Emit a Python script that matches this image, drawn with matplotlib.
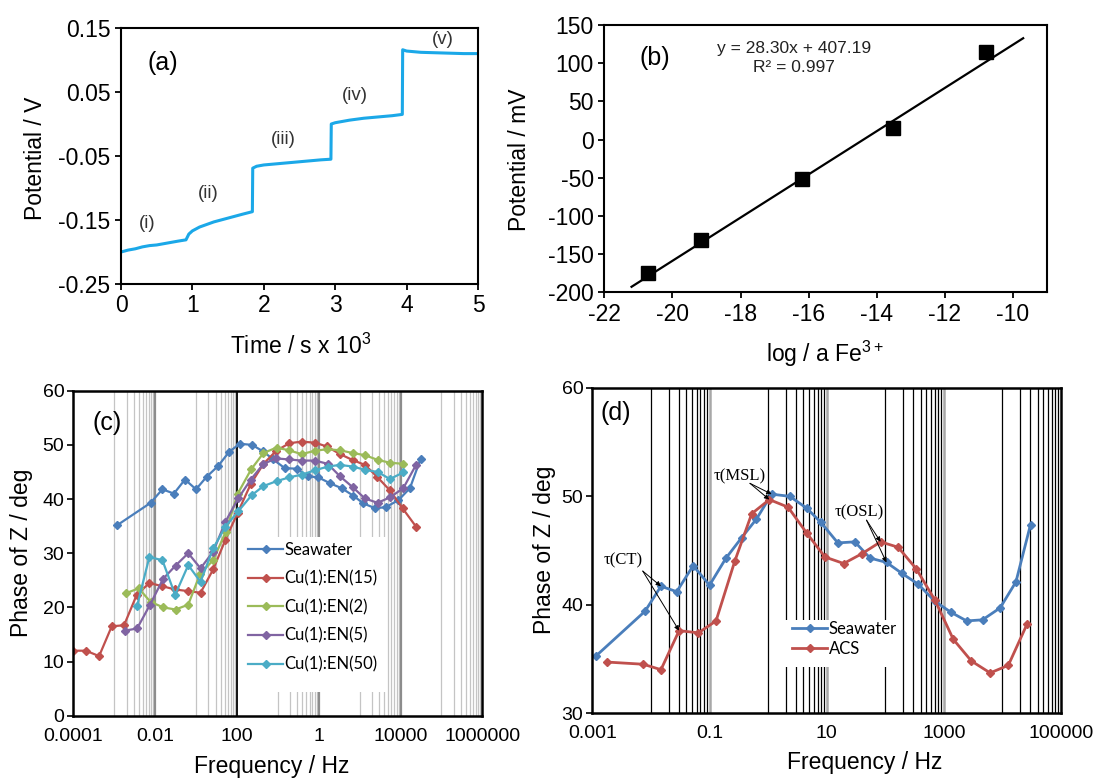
import matplotlib
matplotlib.use('Agg')
import matplotlib.pyplot as plt
import numpy as np
from matplotlib.patches import Rectangle

plt.rcParams['font.family'] = ['Liberation Sans', 'DejaVu Sans']
plt.rcParams['axes.unicode_minus'] = False
plt.rcParams['mathtext.fontset'] = 'custom'
plt.rcParams['mathtext.rm'] = 'Liberation Sans'
plt.rcParams['mathtext.it'] = 'Liberation Sans:italic'

# ---------------- data ----------------
# (a) potential vs time
time_a = [0, 0.1, 0.2, 0.3, 0.4, 0.5, 0.6, 0.7, 0.8, 0.91, 0.95, 1.0, 1.1, 1.2, 1.3,
          1.4, 1.5, 1.6, 1.7, 1.84, 1.845, 1.9, 2.0, 2.2, 2.4, 2.6, 2.8, 2.94, 2.945,
          3.0, 3.2, 3.4, 3.6, 3.8, 3.94, 3.945, 4.0, 4.2, 4.5, 4.8, 5.0]
pot_a = [-0.200, -0.197, -0.195, -0.192, -0.190, -0.189, -0.187, -0.185, -0.183, -0.181,
         -0.172, -0.167, -0.161, -0.157, -0.153, -0.150, -0.147, -0.144, -0.141, -0.137,
         -0.069, -0.066, -0.064, -0.062, -0.060, -0.058, -0.056, -0.055, 0.000, 0.002,
         0.006, 0.009, 0.011, 0.013, 0.015, 0.116, 0.114, 0.112, 0.111, 0.110, 0.110]
step_labels_a = ['(i)', '(ii)', '(iii)', '(iv)', '(v)']

# (b) calibration
logfe_b = [-20.72, -19.15, -16.2, -13.52, -10.78]
pot_b = [-175, -131, -52, 15, 115]
fit_slope, fit_intercept = 28.30, 407.19
fit_range = [-21.2, -9.7]

# (c) phase vs frequency
f_sea_c = [1.20e-3, 7.76e-3, 1.51e-2, 2.88e-2, 5.37e-2, 0.100, 0.182, 0.347, 0.646, 1.17,
           2.34, 4.37, 7.76, 14.8, 28.8, 55.0, 97.7, 191, 363, 708, 1230, 2400, 4370,
           8910, 17000, 30900]
ph_sea_c = [35.2, 39.3, 41.8, 41.0, 43.6, 41.8, 44.1, 46.1, 48.7, 50.2, 50.0, 48.8, 47.3,
            45.7, 45.6, 44.2, 44.0, 42.9, 42.0, 40.6, 39.2, 38.3, 38.5, 39.8, 42.0, 47.4]
f_en15 = [1.0e-4, 2.04e-4, 4.27e-4, 8.71e-4, 1.74e-3, 3.55e-3, 7.24e-3, 1.51e-2, 3.09e-2,
          6.46e-2, 0.129, 0.263, 0.525, 1.05, 2.19, 4.47, 9.12, 19.1, 38.0, 81.3, 158,
          331, 676, 1350, 2690, 5500, 11200, 24000]
ph_en15 = [12.0, 12.0, 11.0, 16.5, 16.7, 22.3, 24.5, 23.9, 23.3, 23.0, 22.7, 27.0, 32.5,
           37.5, 42.8, 46.5, 48.9, 50.3, 50.6, 50.4, 49.7, 48.3, 47.2, 46.3, 44.1, 41.6,
           38.3, 34.9]
f_en2 = [1.91e-3, 3.98e-3, 7.76e-3, 1.58e-2, 3.16e-2, 6.46e-2, 0.126, 0.263, 0.537, 1.05,
         2.24, 4.47, 9.33, 18.6, 38.0, 81.3, 158, 331, 676, 1350, 2820, 5620, 11700]
ph_en2 = [22.6, 23.5, 21.0, 20.0, 19.6, 20.5, 26.2, 28.7, 34.0, 41.0, 45.5, 48.5, 49.5,
          49.0, 48.3, 48.9, 49.2, 49.0, 48.5, 48.1, 47.2, 46.7, 46.5]
f_en5 = [1.82e-3, 3.63e-3, 7.41e-3, 1.58e-2, 3.16e-2, 6.46e-2, 0.129, 0.263, 0.525, 1.07,
         2.19, 4.47, 9.12, 19.1, 38.0, 81.3, 166, 331, 676, 1350, 2750, 5500, 11700, 24000]
ph_en5 = [15.7, 16.1, 20.4, 25.3, 27.7, 30.0, 27.2, 30.3, 35.8, 40.1, 43.6, 46.5, 47.5,
          47.3, 47.1, 47.1, 46.5, 44.2, 42.2, 40.1, 39.3, 40.3, 42.0, 46.3]
f_en50 = [3.63e-3, 7.24e-3, 1.51e-2, 3.09e-2, 6.46e-2, 0.129, 0.263, 0.525, 1.07, 2.29,
          4.47, 9.33, 19.1, 38.0, 81.3, 166, 331, 676, 1350, 2750, 5500, 11700]
ph_en50 = [20.3, 29.3, 28.7, 22.3, 27.8, 24.7, 30.9, 34.9, 37.7, 40.7, 42.4, 43.3, 44.0,
           44.5, 45.3, 46.0, 46.3, 46.0, 45.4, 45.0, 43.7, 44.9]
labels_c = ['Seawater', 'Cu(1):EN(15)', 'Cu(1):EN(2)', 'Cu(1):EN(5)', 'Cu(1):EN(50)']
xticks_c = [1e-4, 1e-2, 1e0, 1e2, 1e4, 1e6]
xticklabels_c = ['0.0001', '0.01', '100', '1', '10000', '1000000']

# (d) phase vs frequency
f_sea_d = [1.17e-3, 7.94e-3, 1.48e-2, 2.75e-2, 5.25e-2, 0.100, 0.191, 0.355, 0.631, 1.15,
           2.34, 4.57, 7.94, 15.5, 30.2, 55.0, 105, 191, 363, 708, 1320, 2450, 4570,
           9120, 17000, 30200]
ph_sea_d = [35.3, 39.4, 41.7, 41.2, 43.6, 41.8, 44.3, 46.2, 47.9, 50.2, 50.0, 48.9, 47.6,
            45.7, 45.8, 44.3, 43.9, 42.9, 41.9, 40.3, 39.3, 38.5, 38.6, 39.7, 42.1, 47.4]
f_acs_d = [1.80e-3, 7.41e-3, 1.48e-2, 3.02e-2, 6.46e-2, 0.129, 0.269, 0.525, 1.05, 2.19,
           4.57, 9.33, 19.5, 39.8, 83.2, 166, 339, 708, 1450, 2950, 6170, 12600, 26300]
ph_acs_d = [34.7, 34.5, 34.0, 37.6, 37.4, 38.5, 44.0, 48.4, 49.7, 49.0, 46.6, 44.4, 43.8,
            44.7, 45.8, 45.3, 43.3, 40.4, 36.8, 34.8, 33.7, 34.4, 38.2]
labels_d = ['Seawater', 'ACS']
xticks_d = [1e-3, 1e-1, 1e1, 1e3, 1e5]
xticklabels_d = ['0.001', '0.1', '10', '1000', '100000']

# ---------------- figure ----------------
W, H = 1095, 780
fig = plt.figure(figsize=(W / 100, H / 100), dpi=100)


def px_axes(l, t, r, b):
    return fig.add_axes([l / W, 1 - b / H, (r - l) / W, (b - t) / H])


def ftext(x, y, s, **kw):
    kw.setdefault('ha', 'center')
    kw.setdefault('va', 'center')
    fig.text(x / W, 1 - y / H, s, **kw)


C_BLUE = '#4a7ebb'
C_RED = '#c0504d'
C_GREEN = '#9bbb59'
C_PURPLE = '#8064a2'
C_CYAN = '#4bacc6'

# ----- (a) -----
ax = px_axes(121, 28, 478, 284)
ax.plot(time_a, pot_a, color='#1ba8e8', lw=2.2)
ax.set_xlim(0, 5)
ax.set_ylim(-0.25, 0.15)
ax.set_xticks([0, 1, 2, 3, 4, 5])
ax.set_yticks([0.15, 0.05, -0.05, -0.15, -0.25])
ax.set_yticklabels(['0.15', '0.05', '-0.05', '-0.15', '-0.25'])
ax.tick_params(direction='out', length=4.5, width=1.3, labelsize=16.5, pad=3)
for s in ax.spines.values():
    s.set_linewidth(1.5)
ftext(35, 158, 'Potential / V', rotation=90, fontsize=16.5)
ftext(301, 346, 'Time / s x 10$^{3}$', fontsize=16.5)
ftext(163, 63, '(a)', fontsize=18)
for (x, y), s in zip([(147, 223), (208, 193), (283, 139), (355, 96), (443, 39)], step_labels_a):
    ftext(x, y, s, fontsize=13.5, color='#333333')

# ----- (b) -----
ax = px_axes(604.3, 25, 1047, 292.3)
ax.plot(logfe_b, pot_b, 's', color='black', ms=10.5, zorder=3)
fx = np.array(fit_range)
ax.plot(fx, fit_slope * fx + fit_intercept, color='black', lw=1.6, zorder=2)
ax.set_xlim(-22, -9)
ax.set_ylim(-200, 150)
ax.set_xticks(list(range(-22, -9, 2)))
ax.set_yticks(list(range(-200, 151, 50)))
ax.tick_params(direction='out', length=4.5, width=1.3, labelsize=16.5, pad=3)
for s in ax.spines.values():
    s.set_linewidth(1.5)
ftext(519, 160, 'Potential / mV', rotation=90, fontsize=16.5)
ftext(825, 354, 'log / a Fe$^{3+}$', fontsize=16.5)
ftext(655, 58, '(b)', fontsize=18)
ftext(794, 48, 'y = %.2fx + %.2f' % (fit_slope, fit_intercept), fontsize=12.5, color='#222222')
ftext(794, 67, 'R² = 0.997', fontsize=12.5, color='#222222')


def style_eis(ax, xlim, ylim, yticks, xticks, xticklabels):
    ax.set_xscale('log')
    ax.set_xlim(*xlim)
    ax.set_ylim(*ylim)
    ax.set_yticks(yticks)
    ax.set_xticks(xticks)
    ax.set_xticklabels(xticklabels)
    ax.xaxis.set_minor_locator(matplotlib.ticker.NullLocator())
    ax.tick_params(axis='x', length=0, labelsize=14, pad=9)
    ax.tick_params(axis='y', direction='out', length=4.5, width=1.2, labelsize=14, pad=2)
    for s in ax.spines.values():
        s.set_linewidth(1.8)
        s.set_zorder(6)


# ----- (c) -----
ax = px_axes(73.3, 390.7, 482.3, 715.7)
style_eis(ax, (1e-4, 1e6), (0, 60), list(range(0, 61, 10)), xticks_c, xticklabels_c)
for e in [-3, -1, 1, 3, 5]:
    for k in range(1, 10):
        ax.axvline(k * 10.0 ** e, color='#c4c4c4', lw=0.9, zorder=1)
for v in [1e-2, 1e2, 1e4]:
    ax.axvline(v, color='#8c8c8c', lw=1.6, zorder=1)
ax.axvline(1e0, color='black', lw=1.3, zorder=1)
ax.add_patch(Rectangle((0.42, 0.073), 0.347, 0.477, transform=ax.transAxes,
                       facecolor='white', edgecolor='none', zorder=1.5))
series_c = [(f_sea_c, ph_sea_c, C_BLUE), (f_en15, ph_en15, C_RED), (f_en2, ph_en2, C_GREEN),
            (f_en5, ph_en5, C_PURPLE), (f_en50, ph_en50, C_CYAN)]
for (fx_, py_, col), lab in zip(series_c, labels_c):
    ax.plot(fx_, py_, '-D', color=col, lw=1.6, ms=4, label=lab, zorder=3, clip_on=True)
leg = ax.legend(loc='upper left', bbox_to_anchor=((248 - 73.3) / 409, (715.7 - 542) / 325),
                frameon=False, prop={'family': 'Lato', 'size': 12}, handlelength=2.1,
                handletextpad=0.1, labelspacing=0.75, borderpad=0, borderaxespad=0,
                numpoints=1)
ftext(22, 553, 'Phase of Z / deg', rotation=90, fontsize=16.5)
ftext(272, 766, 'Frequency / Hz', fontsize=16.5)
ftext(107, 423, '(c)', fontsize=18)

# ----- (d) -----
ax = px_axes(592.4, 388, 1061, 713)
style_eis(ax, (1e-3, 1e5), (30, 60), [30, 40, 50, 60], xticks_d, xticklabels_d)
for e in [-2, 0, 2, 4]:
    for k in range(1, 10):
        ax.axvline(k * 10.0 ** e, color='black', lw=0.9, zorder=1)
for v in [1e-1, 1e1, 1e3]:
    ax.axvline(v, color='#a8a8a8', lw=1.8, zorder=1)
ax.add_patch(Rectangle((0.409, 0.1415), 0.226, 0.145, transform=ax.transAxes,
                       facecolor='white', edgecolor='none', zorder=1.5))
ax.plot(f_sea_d, ph_sea_d, '-D', color=C_BLUE, lw=2, ms=4, label=labels_d[0], zorder=3)
ax.plot(f_acs_d, ph_acs_d, '-D', color=C_RED, lw=2, ms=4, label=labels_d[1], zorder=3)
ax.legend(loc='upper left', bbox_to_anchor=((792 - 592.4) / 468.6, (713 - 621) / 325),
          frameon=False, prop={'family': 'Lato', 'size': 12}, handlelength=2.1,
          handletextpad=0.1, labelspacing=0.22, borderpad=0, borderaxespad=0, numpoints=1)

serif = {'family': ['Liberation Serif', 'DejaVu Serif'], 'size': 12}
arrow = dict(arrowstyle='-|>', color='black', lw=0.7, mutation_scale=7, shrinkA=0, shrinkB=0)
ax.text(10 ** -0.48, 51.8, 'τ(MSL)', ha='center', va='center', fontdict=serif, zorder=5)
for tgt in [(10 ** 0.06, 50.2), (10 ** 0.02, 49.7)]:
    ax.annotate('', xy=tgt, xytext=(10 ** -0.31, 51.2), arrowprops=arrow, zorder=5)
ax.text(10 ** -2.47, 44.1, 'τ(CT)', ha='center', va='center', fontdict=serif, zorder=5)
for tgt in [(10 ** -1.83, 41.7), (10 ** -1.52, 37.6)]:
    ax.annotate('', xy=tgt, xytext=(10 ** -2.14, 43.1), arrowprops=arrow, zorder=5)
ax.text(10 ** 1.555, 48.5, 'τ(OSL)', ha='center', va='center', fontdict=serif, zorder=5)
for tgt in [(10 ** 2.02, 43.9), (10 ** 1.92, 45.8)]:
    ax.annotate('', xy=tgt, xytext=(10 ** 1.68, 47.8), arrowprops=arrow, zorder=5)

ftext(545, 550, 'Phase of Z / deg', rotation=90, fontsize=16.5)
ftext(865, 763, 'Frequency / Hz', fontsize=16.5)
ftext(616, 413, '(d)', fontsize=18)

fig.savefig('out.png', dpi=100)
